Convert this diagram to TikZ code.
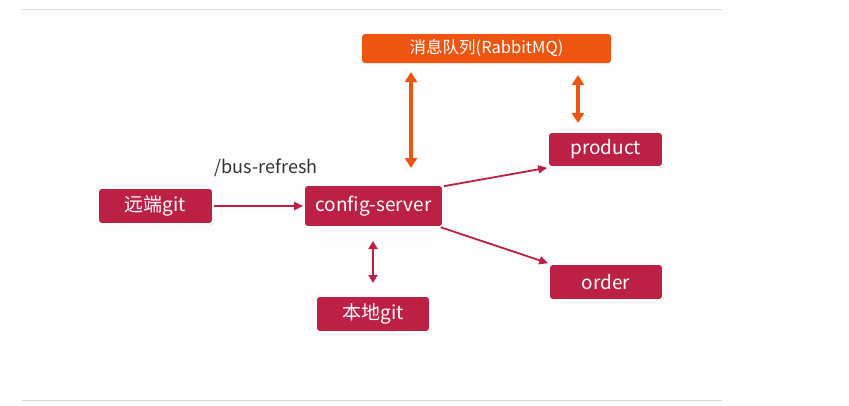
\documentclass[tikz,border=0pt]{standalone}
\usepackage{fontspec}
\setmainfont{Noto Sans CJK SC}
\usetikzlibrary{arrows.meta,shadows,calc}
\definecolor{crim}{HTML}{BD2045}
\definecolor{orng}{HTML}{EE5511}
\definecolor{slidebg}{HTML}{FDFDFD}
\definecolor{rule}{HTML}{D8D8D8}
\tikzset{
  box/.style={fill=crim, draw=white, line width=1.6pt, rounded corners=4pt,
    text=white, font=\fontsize{19}{22}\selectfont, inner sep=0pt,
    drop shadow={shadow xshift=0.8pt, shadow yshift=-1.2pt, fill=black!30, opacity=0.5}},
  mq/.style={fill=orng, rounded corners=3pt, text=white,
    font=\fontsize{16.5}{19}\selectfont, inner sep=0pt},
  flow/.style={draw=crim, line width=1.8pt, -{Triangle[length=9pt,width=8pt]}},
  dbl/.style={draw=crim, line width=2.2pt, {Triangle[length=8pt,width=9pt]}-{Triangle[length=8pt,width=9pt]}},
  odbl/.style={draw=orng, line width=3.8pt, {Triangle[length=10pt,width=12pt]}-{Triangle[length=10pt,width=12pt]}}
}
\begin{document}
\begin{tikzpicture}[x=1pt,y=-1pt]
\useasboundingbox (0,0) rectangle (849,405);
\fill[white] (0,0) rectangle (849,405);
\fill[slidebg] (22,9) rectangle (722,400);
\draw[rule, line width=1pt] (22,9) -- (722,9);
\draw[rule, line width=1pt] (22,400) -- (722,400);

\node[mq, minimum width=249pt, minimum height=29pt] (mq) at (486.5,48.5) {消息队列(RabbitMQ)};
\node[box, minimum width=115pt, minimum height=35pt] (product) at (605.5,149.5) {product};
\node[box, minimum width=115pt, minimum height=36pt] (remote) at (155.5,206) {远端git};
\node[box, minimum width=139pt, minimum height=42pt] (cs) at (373.5,206) {config-server};
\node[box, minimum width=114pt, minimum height=36pt] (order) at (606,282) {order};
\node[box, minimum width=114pt, minimum height=36pt] (local) at (373,314) {本地git};
\node[text=black!80, font=\fontsize{18}{21}\selectfont, inner sep=0pt] (bus) at (266,168) {/bus-refresh};

\coordinate (mqa) at (411,72);
\coordinate (csa) at (411,168);
\coordinate (mqb) at (578,75);
\coordinate (pb) at (578,123);
\draw[odbl] (mqa) -- (csa);
\draw[odbl] (mqb) -- (pb);

\draw[flow] (remote.east) -- (cs.west);
\draw[flow] ($(cs.north east)+(0,2)$) -- (product.south west);
\draw[flow] ($(cs.south east)+(-3,-0.5)$) -- (order.north west);

\coordinate (la) at (373,241);
\coordinate (lb) at (373,283);
\draw[dbl] (la) -- (lb);
\end{tikzpicture}
\end{document}
